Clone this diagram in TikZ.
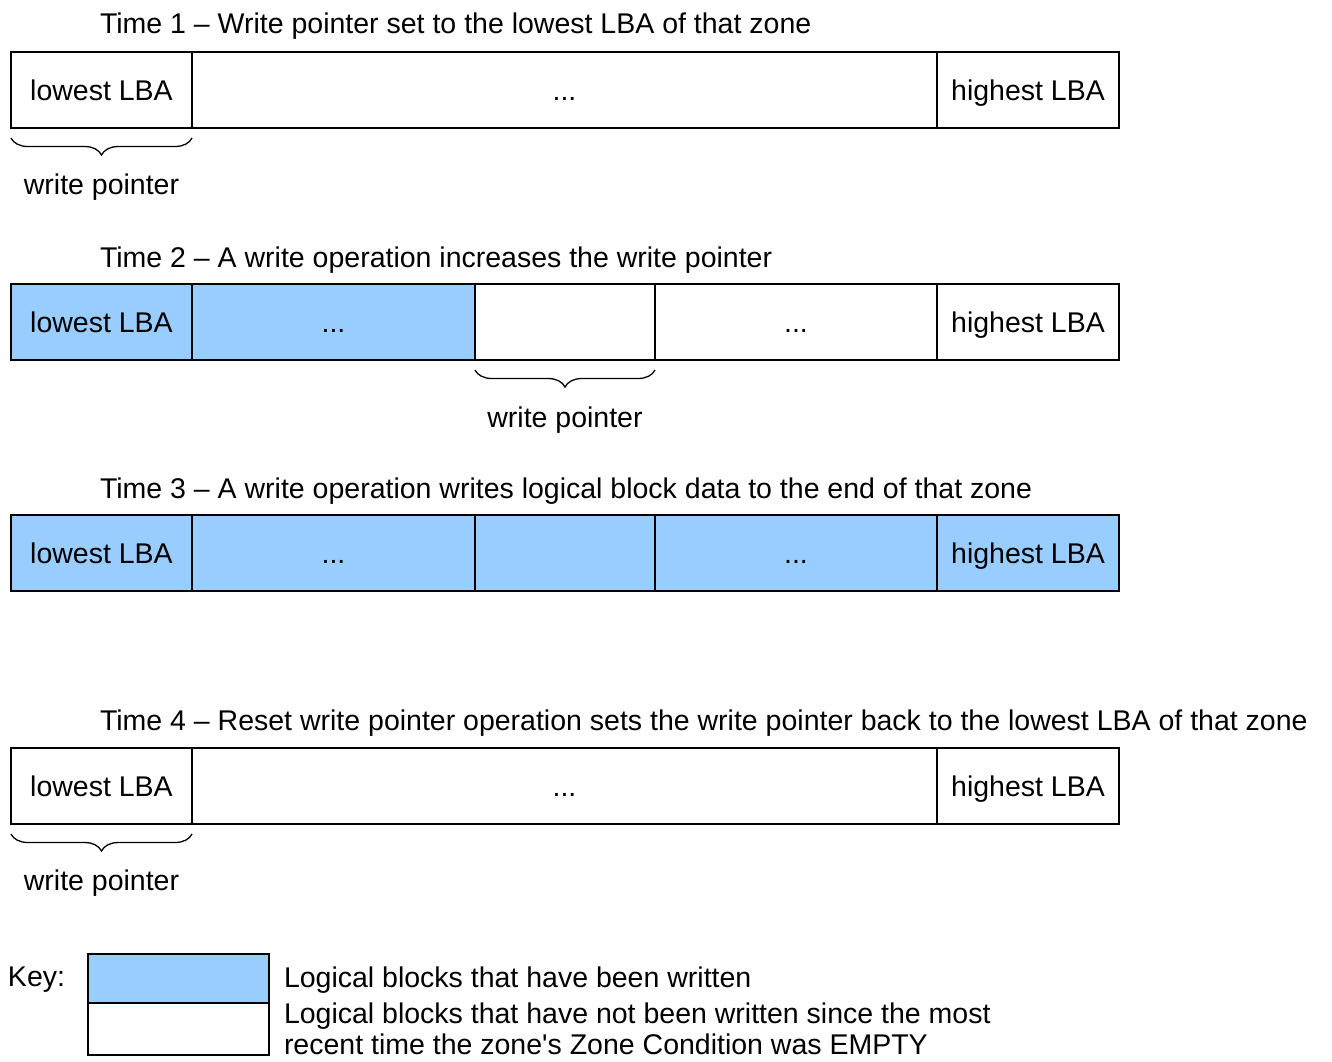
\documentclass[tikz,border=0pt]{standalone}
\usepackage{fontspec}
\setmainfont{Liberation Sans}
\usetikzlibrary{decorations.pathreplacing}
\definecolor{wblue}{HTML}{99CCFF}
\begin{document}
\begin{tikzpicture}[x=1pt,y=-1pt,
  every node/.style={font=\fontsize{28.5}{34}\selectfont, inner sep=0pt, outer sep=0pt},
  cell/.style={draw, line width=1.6pt, minimum height=76pt, text height=20.5pt, text depth=0pt},
  wcell/.style={cell, fill=wblue},
  title/.style={anchor=base west},
  wplabel/.style={anchor=base},
  keytext/.style={anchor=base west},
  wpbrace/.style={draw, line width=1.3pt, decorate, decoration={brace, amplitude=17pt}}]
\useasboundingbox (0,0) rectangle (1332,1061);
% Time 1
\node[title] (t1) at (100,33) {Time 1 -- Write pointer set to the lowest LBA of that zone};
\node[cell, minimum width=181pt] (a1) at (101.5,90) {lowest LBA};
\node[cell, minimum width=745pt] (m1) at (564.5,90) {...};
\node[cell, minimum width=182pt] (h1) at (1028,90) {highest LBA};
\draw[wpbrace] ([yshift=-10pt]a1.south east) -- ([yshift=-10pt]a1.south west);
\node[wplabel] (w1) at (101.5,194) {write pointer};
% Time 2
\node[title] (t2) at (100,267) {Time 2 -- A write operation increases the write pointer};
\node[wcell, minimum width=181pt] (a2) at (101.5,322) {lowest LBA};
\node[wcell, minimum width=283pt] (b2) at (333.5,322) {...};
\node[cell, minimum width=180pt] (c2) at (565,322) {};
\node[cell, minimum width=282pt] (d2) at (796,322) {...};
\node[cell, minimum width=182pt] (h2) at (1028,322) {highest LBA};
\draw[wpbrace] ([yshift=-10pt]c2.south east) -- ([yshift=-10pt]c2.south west);
\node[wplabel] (w2) at (565,427) {write pointer};
% Time 3
\node[title] (t3) at (100,498) {Time 3 -- A write operation writes logical block data to the end of that zone};
\node[wcell, minimum width=181pt] (a3) at (101.5,553) {lowest LBA};
\node[wcell, minimum width=283pt] (b3) at (333.5,553) {...};
\node[wcell, minimum width=180pt] (c3) at (565,553) {};
\node[wcell, minimum width=282pt] (d3) at (796,553) {...};
\node[wcell, minimum width=182pt] (h3) at (1028,553) {highest LBA};
% Time 4
\node[title] (t4) at (100,730) {Time 4 -- Reset write pointer operation sets the write pointer back to the lowest LBA of that zone};
\node[cell, minimum width=181pt] (a4) at (101.5,786) {lowest LBA};
\node[cell, minimum width=745pt] (m4) at (564.5,786) {...};
\node[cell, minimum width=182pt] (h4) at (1028,786) {highest LBA};
\draw[wpbrace] ([yshift=-10pt]a4.south east) -- ([yshift=-10pt]a4.south west);
\node[wplabel] (w4) at (101.5,890) {write pointer};
% Key
\node[anchor=base west] (key) at (8,986) {Key:};
\node[draw, line width=1.6pt, fill=wblue, minimum width=181pt, minimum height=49pt] (k1) at (178.5,978.5) {};
\node[draw, line width=1.6pt, minimum width=181pt, minimum height=52pt] (k2) at (178.5,1029) {};
\node[keytext] (kt1) at (284,987) {Logical blocks that have been written};
\node[keytext] (kt2) at (284,1023) {Logical blocks that have not been written since the most};
\node[keytext] (kt3) at (284,1054) {recent time the zone\textquotesingle s Zone Condition was EMPTY};
\end{tikzpicture}
\end{document}
